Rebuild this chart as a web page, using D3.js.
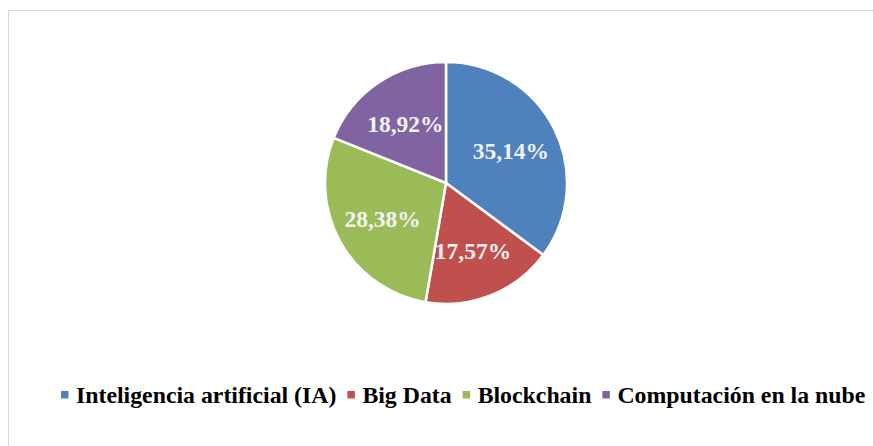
<!DOCTYPE html>
<html lang="es">
<head>
<meta charset="utf-8">
<title>Pie chart</title>
<script src="https://d3js.org/d3.v7.min.js"></script>
<style>
  body { margin: 0; background: #fff; }
  svg { display: block; }
  text { font-family: "Liberation Serif", Tinos, "Times New Roman", Times, "DejaVu Serif", serif; font-weight: bold; }
</style>
</head>
<body>
<script>
// data
var categories = ["Inteligencia artificial (IA)", "Big Data", "Blockchain", "Computación en la nube"];
var values = [35.14, 17.57, 28.38, 18.92];
var colors = ["#4F81BD", "#C0504D", "#9BBB59", "#8064A2"];

var width = 873, height = 446;
var cx = 446, cy = 183, radius = 121;

var svg = d3.select("body").append("svg")
    .attr("width", width)
    .attr("height", height);

// chart area border (only top and left visible)
svg.append("rect")
    .attr("x", 8.5).attr("y", 10.5)
    .attr("width", width + 20).attr("height", height + 20)
    .attr("fill", "none")
    .attr("stroke", "#d9d9d9")
    .attr("stroke-width", 1);

var data = categories.map(function(c, i) { return { name: c, value: values[i], color: colors[i] }; });

var pie = d3.pie().sort(null).value(function(d) { return d.value; });
var arc = d3.arc().innerRadius(0).outerRadius(radius);
var labelArc = d3.arc().innerRadius(radius * 0.6).outerRadius(radius * 0.6);

var g = svg.append("g").attr("transform", "translate(" + cx + "," + cy + ")");

var slices = g.selectAll(".slice")
    .data(pie(data))
    .enter().append("g")
    .attr("class", "slice");

slices.append("path")
    .attr("d", arc)
    .attr("fill", function(d) { return d.data.color; })
    .attr("stroke", "#fff")
    .attr("stroke-width", 2.5);

slices.append("text")
    .attr("transform", function(d) { return "translate(" + labelArc.centroid(d) + ")"; })
    .attr("text-anchor", "middle")
    .attr("dy", "0.38em")
    .style("font-size", "23.5px")
    .attr("fill", "#f2f2f2")
    .text(function(d) { return d.data.value.toFixed(2).replace(".", ",") + "%"; });

// legend
var legend = svg.append("g").attr("transform", "translate(0,395)");
var items = legend.selectAll(".item")
    .data(data)
    .enter().append("g")
    .attr("class", "item");

items.append("rect")
    .attr("width", 7.5).attr("height", 7.5)
    .attr("y", -4)
    .attr("fill", function(d) { return d.color; });

items.append("text")
    .attr("x", 15)
    .attr("dy", "0.35em")
    .style("font-size", "23.8px")
    .attr("fill", "#000")
    .text(function(d) { return d.name; });

var x = 61;
items.each(function() {
    var w = this.querySelector("text").getComputedTextLength();
    d3.select(this).attr("transform", "translate(" + x + ",0)");
    x += 15 + w + 11;
});
</script>
</body>
</html>
